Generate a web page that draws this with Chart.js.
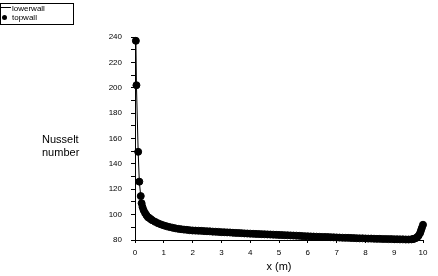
<!DOCTYPE html>
<html>
<head>
<meta charset="utf-8">
<script src="https://cdn.jsdelivr.net/npm/chart.js@4"></script>
<style>
  body { margin: 0; background: #fff; font-family: 'Liberation Sans', Arial, sans-serif; }
  #wrap { position: relative; width: 438px; height: 276px; }
  #legend { position: absolute; left: 0; top: 3px; width: 72px; height: 20px; border: 1px solid #000; font-size: 8px; line-height: 9px; color: #000; }
  #legend .row { position: relative; height: 9px; padding-left: 11px; white-space: nowrap; }
  #legend .ln { position: absolute; left: 0; top: 3px; width: 10px; border-top: 1px solid #000; }
  #legend .dot { position: absolute; left: 1px; top: 2px; width: 5px; height: 5px; border-radius: 50%; background: #000; }
  #ylabel { position: absolute; left: 42px; top: 133px; font-size: 11px; line-height: 13px; color: #000; }
</style>
</head>
<body>
<div id="wrap">
  <canvas id="myChart" width="438" height="276"></canvas>
  <div id="legend"></div>
  <div id="ylabel">Nusselt<br>number</div>
</div>
<script>

const xTitle = 'x (m)';
const yTitle = 'Nusselt number';
const seriesNames = ['lowerwall', 'topwall'];

const xPos = [0.03, 0.05, 0.11, 0.15, 0.2, 0.23, 0.26, 0.3, 0.35, 0.4, 0.45, 0.5, 0.55,
  0.6, 0.7, 0.8, 0.9, 1.0, 1.1, 1.2, 1.3, 1.4, 1.5, 1.6, 1.7, 1.8, 1.9, 2.0,
  2.1, 2.2, 2.3, 2.4, 2.5, 2.6, 2.7, 2.8, 2.9, 3.0,
  3.1, 3.2, 3.3, 3.4, 3.5, 3.6, 3.7, 3.8, 3.9, 4.0,
  4.1, 4.2, 4.3, 4.4, 4.5, 4.6, 4.7, 4.8, 4.9, 5.0,
  5.1, 5.2, 5.3, 5.4, 5.5, 5.6, 5.7, 5.8, 5.9, 6.0,
  6.1, 6.2, 6.3, 6.4, 6.5, 6.6, 6.7, 6.8, 6.9, 7.0,
  7.1, 7.2, 7.3, 7.4, 7.5, 7.6, 7.7, 7.8, 7.9, 8.0,
  8.1, 8.2, 8.3, 8.4, 8.5, 8.6, 8.7, 8.8, 8.9, 9.0,
  9.1, 9.2, 9.3, 9.4, 9.5, 9.6, 9.65, 9.7, 9.75, 9.8, 9.85, 9.9, 9.93, 9.96, 10.0];

const topwall = [237, 202, 149.5, 126, 114.6, 109, 106, 103.5, 101.2, 99.5, 98, 97.3, 96.4,
  95.6, 94.3, 93.2, 92.3, 91.5, 90.8, 90.2, 89.7, 89.2, 88.8, 88.5, 88.2, 88.0, 87.7, 87.5,
  87.4, 87.3, 87.2, 87.0, 86.9, 86.8, 86.6, 86.5, 86.4, 86.2,
  86.1, 86.0, 85.9, 85.7, 85.6, 85.5, 85.4, 85.2, 85.1, 85.0,
  84.9, 84.8, 84.7, 84.6, 84.5, 84.4, 84.3, 84.2, 84.1, 84.0,
  83.9, 83.8, 83.7, 83.6, 83.5, 83.4, 83.3, 83.1, 83.0, 82.9,
  82.8, 82.7, 82.6, 82.5, 82.4, 82.4, 82.3, 82.2, 82.1, 82.0,
  81.9, 81.8, 81.7, 81.7, 81.6, 81.5, 81.4, 81.3, 81.3, 81.2,
  81.1, 81.1, 81.0, 80.9, 80.9, 80.8, 80.8, 80.7, 80.7, 80.6,
  80.6, 80.5, 80.5, 80.4, 80.4, 80.5, 80.7, 81.0, 81.5, 82.2, 83.5, 85.5, 87.5, 89.5, 92.0];

// lower wall sits on top of the top wall values in the picture
const lowerwall = [240, 202, 149.5, 126, 114.6, 109, 106, 103.5, 101.2, 99.5, 98, 97.3, 96.4,
  95.6, 94.3, 93.2, 92.3, 91.5, 90.8, 90.2, 89.7, 89.2, 88.8, 88.5, 88.2, 88.0, 87.7, 87.5,
  87.4, 87.3, 87.2, 87.0, 86.9, 86.8, 86.6, 86.5, 86.4, 86.2,
  86.1, 86.0, 85.9, 85.7, 85.6, 85.5, 85.4, 85.2, 85.1, 85.0,
  84.9, 84.8, 84.7, 84.6, 84.5, 84.4, 84.3, 84.2, 84.1, 84.0,
  83.9, 83.8, 83.7, 83.6, 83.5, 83.4, 83.3, 83.1, 83.0, 82.9,
  82.8, 82.7, 82.6, 82.5, 82.4, 82.4, 82.3, 82.2, 82.1, 82.0,
  81.9, 81.8, 81.7, 81.7, 81.6, 81.5, 81.4, 81.3, 81.3, 81.2,
  81.1, 81.1, 81.0, 80.9, 80.9, 80.8, 80.8, 80.7, 80.7, 80.6,
  80.6, 80.5, 80.5, 80.4, 80.4, 80.5, 80.7, 81.0, 81.5, 82.2, 83.5, 85.5, 87.5, 89.5, 92.0];

const yMin = 80, yMax = 240, yMajor = 20, yMinor = 10;
const xMin = 0, xMax = 10, xStep = 1;


const toPoints = (ys) => xPos.map((x, i) => ({x: x, y: ys[i]}));

const font = 'Liberation Sans, Arial, sans-serif';

const ctx = document.getElementById('myChart');

const chart = new Chart(ctx, {
    type: 'scatter',
    data: {
        datasets: [{
            label: seriesNames[0],
            data: toPoints(lowerwall),
            showLine: true,
            borderColor: '#000',
            borderWidth: 1,
            pointRadius: 0,
            clip: false
        }, {
            label: seriesNames[1],
            data: toPoints(topwall),
            showLine: false,
            pointStyle: 'circle',
            pointRadius: 3.5,
            borderWidth: 1,
            borderColor: '#000',
            backgroundColor: '#000',
            clip: false
        }]
    },
    options: {
        responsive: false,
        animation: false,
        layout: { padding: { left: 0, right: 15, top: 37, bottom: 0 } },
        plugins: {
            legend: { display: false },
            tooltip: { enabled: false }
        },
        scales: {
            x: {
                type: 'linear',
                min: xMin, max: xMax,
                ticks: { stepSize: xStep, color: '#000', padding: 5, font: { family: font, size: 8 } },
                grid: { drawOnChartArea: false, tickLength: 3, color: '#000' },
                border: { color: '#000', width: 1 },
                title: { display: true, text: xTitle, color: '#000', padding: { top: 0, bottom: 2 }, font: { family: font, size: 11 } },
                afterFit: (scale) => { scale.height = 36; }
            },
            y: {
                min: yMin, max: yMax,
                ticks: {
                    stepSize: yMinor,
                    color: '#000',
                    padding: 9,
                    font: { family: font, size: 8 },
                    callback: (v) => (v % yMajor === 0 ? v : '')
                },
                grid: { drawOnChartArea: false, tickLength: 4, color: '#000' },
                border: { color: '#000', width: 1 },
                afterFit: (scale) => { scale.width = 135; }
            }
        }
    }
});

// html legend, built from the datasets
const legendBox = document.getElementById('legend');
chart.data.datasets.forEach((ds, i) => {
    const mark = i === 0 ? '<span class="ln"></span>' : '<span class="dot"></span>';
    legendBox.innerHTML += `<div class="row">${mark}${ds.label}</div>`;
});
</script>
</body>
</html>
